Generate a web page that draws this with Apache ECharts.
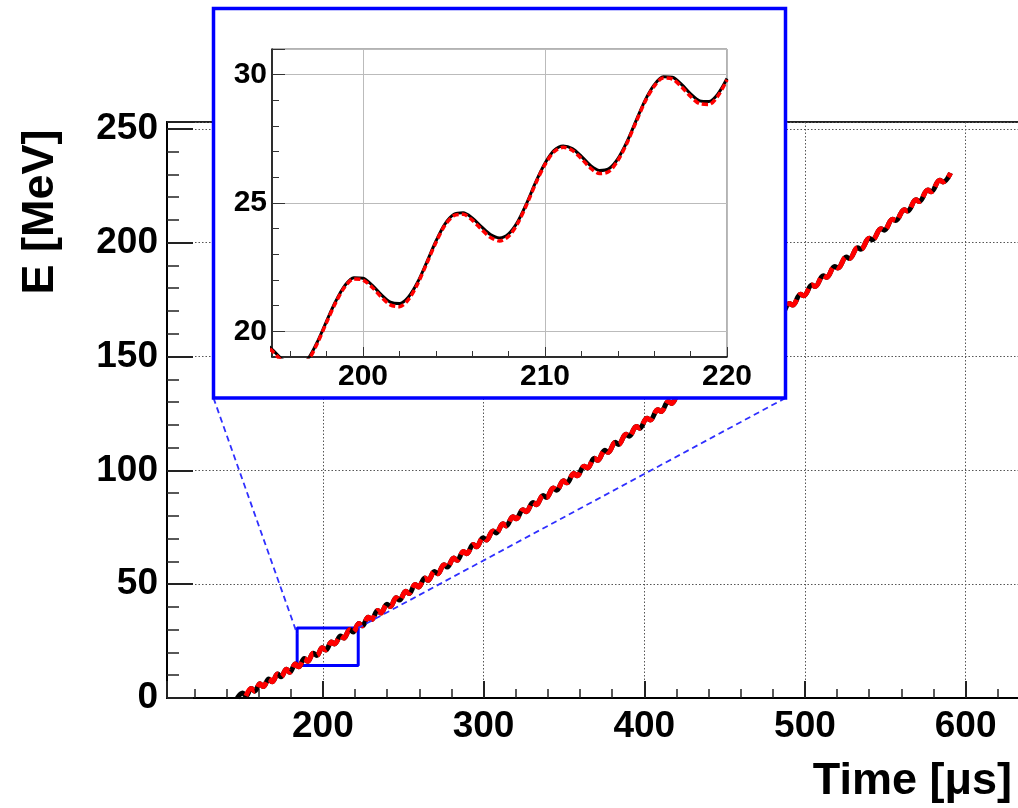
<!DOCTYPE html>
<html>
<head>
<meta charset="utf-8">
<script src="https://cdn.jsdelivr.net/npm/echarts@6.0.0/dist/echarts.min.js"></script>
<style>
  html, body { margin: 0; padding: 0; background: #fff; }
  #chart { width: 1018px; height: 808px; }
</style>
</head>
<body>
<div id="chart"></div>
<script>
// energy ramp, main plot: start, then peak / trough of every small oscillation
var mainTime = [
  146.7, 150.1, 152.1, 155.5, 157.5, 160.9, 162.9, 166.4, 168.4, 171.9, 173.9,
  177.4, 179.4, 182.9, 184.9, 188.5, 190.5, 194.1, 196.2, 199.7, 201.8,
  205.4, 207.2, 211.1, 212.9, 216.8, 218.8, 222.5, 224.5, 228.3, 230.3,
  234.1, 236.1, 239.9, 241.9, 245.7, 247.7, 251.6, 253.6, 257.5, 259.5,
  263.5, 265.5, 269.4, 271.4, 275.4, 277.4, 281.5, 283.5, 287.5, 289.5,
  293.6, 295.6, 299.7, 301.7, 305.9, 307.9, 312.1, 314.1, 318.3, 320.3,
  324.5, 326.5, 330.8, 332.8, 337.1, 339.1, 343.4, 345.4, 349.8, 351.8,
  356.2, 358.2, 362.6, 364.6, 369.0, 371.0, 375.5, 377.5, 382.0, 384.0,
  388.6, 390.6, 395.1, 397.1, 401.7, 403.7, 408.4, 410.4, 415.0, 417.0,
  421.7, 423.7, 428.4, 430.4, 435.2, 437.2, 442.0, 444.0, 448.8, 450.8,
  455.6, 457.6, 462.5, 464.5, 469.4, 471.4, 476.3, 478.3, 483.3, 485.3,
  490.3, 492.3, 497.3, 499.3, 504.3, 506.3, 511.4, 513.4, 518.5, 520.5,
  525.7, 527.7, 532.8, 534.8, 540.0, 542.0, 547.3, 549.3, 554.5, 556.5,
  561.8, 563.8, 569.1, 571.1, 576.5, 578.5, 583.9, 585.9, 590.6
];
var mainEnergy = [
  0.0, 2.2, 0.9, 4.2, 3.0, 6.3, 5.0, 8.4, 7.1, 10.5, 9.3,
  12.6, 11.3, 14.9, 13.7, 17.3, 16.1, 19.7, 18.7, 22.1, 21.1,
  24.6, 23.7, 27.2, 26.3, 30.0, 29.0, 32.7, 31.7, 35.5, 34.5,
  38.4, 37.3, 41.2, 40.2, 44.0, 43.0, 46.9, 45.9, 49.8, 48.8,
  52.7, 51.7, 55.6, 54.6, 58.5, 57.5, 61.5, 60.5, 64.4, 63.4,
  67.4, 66.4, 70.4, 69.4, 73.4, 72.5, 76.5, 75.6, 79.6, 78.7,
  82.7, 81.8, 85.9, 84.9, 89.0, 88.1, 92.2, 91.3, 95.4, 94.5,
  98.6, 97.6, 101.8, 101.0, 105.3, 104.4, 108.8, 107.9, 112.3, 111.4,
  115.8, 115.0, 119.3, 118.5, 122.9, 122.1, 126.6, 125.8, 130.2, 129.4,
  133.9, 133.1, 137.7, 136.9, 141.6, 140.8, 145.4, 144.7, 149.3, 148.6,
  153.2, 152.5, 157.2, 156.5, 161.2, 160.5, 165.2, 164.5, 169.2, 168.6,
  173.3, 172.6, 177.3, 176.7, 181.4, 180.7, 185.5, 184.8, 189.5, 188.9,
  193.7, 193.0, 197.8, 197.1, 201.9, 201.3, 206.1, 205.5, 210.3, 209.7,
  214.5, 213.9, 218.8, 218.1, 223.1, 222.4, 227.4, 226.7, 230.6
];

// zoomed window, 0.5 us steps
var insetTime = [
  194.5, 195.0, 195.5, 196.0, 196.5, 197.0, 197.5, 198.0, 198.5, 199.0,
  199.5, 200.0, 200.5, 201.0, 201.5, 202.0, 202.5, 203.0, 203.5, 204.0,
  204.5, 205.0, 205.5, 206.0, 206.5, 207.0, 207.5, 208.0, 208.5, 209.0,
  209.5, 210.0, 210.5, 211.0, 211.5, 212.0, 212.5, 213.0, 213.5, 214.0,
  214.5, 215.0, 215.5, 216.0, 216.5, 217.0, 217.5, 218.0, 218.5, 219.0,
  219.5, 220.0
];
var insetBlack = [
  19.6, 19.3, 18.95, 18.7, 18.65, 18.95, 19.6, 20.4, 21.17, 21.78,
  22.09, 22.07, 21.8, 21.43, 21.14, 21.08, 21.34, 21.91, 22.69, 23.5,
  24.18, 24.56, 24.62, 24.42, 24.08, 23.77, 23.64, 23.8, 24.27, 25.0,
  25.83, 26.55, 27.05, 27.22, 27.12, 26.82, 26.46, 26.27, 26.33, 26.72,
  27.38, 28.2, 29.0, 29.6, 29.92, 29.9, 29.62, 29.25, 28.98, 28.95,
  29.25, 29.85
];
var insetRed = [
  19.54, 19.24, 18.88, 18.6, 18.55, 18.88, 19.55, 20.35, 21.12, 21.73,
  22.04, 22.0, 21.72, 21.34, 21.03, 20.96, 21.24, 21.85, 22.64, 23.45,
  24.13, 24.51, 24.56, 24.33, 23.98, 23.66, 23.52, 23.7, 24.21, 24.95,
  25.78, 26.5, 27.0, 27.17, 27.05, 26.73, 26.36, 26.15, 26.22, 26.65,
  27.33, 28.15, 28.95, 29.55, 29.87, 29.83, 29.53, 29.15, 28.87, 28.84,
  29.17, 29.8
];

// marker box on the main plot
var boxTime = [184, 222];
var boxEnergy = [14.3, 30.8];

var FONT = '"Liberation Sans", Arial, Helvetica, sans-serif';

function zip(xs, ys) {
  return xs.map(function (x, i) { return [x, ys[i]]; });
}

var mainData = zip(mainTime, mainEnergy);
var boxData = [
  [boxTime[0], boxEnergy[0]], [boxTime[1], boxEnergy[0]],
  [boxTime[1], boxEnergy[1]], [boxTime[0], boxEnergy[1]],
  [boxTime[0], boxEnergy[0]]
];

function labelEvery(step) {
  return function (v) {
    return Math.abs(v % step) < 1e-6 ? String(v) : '';
  };
}

var chart = echarts.init(document.getElementById('chart'), null, { renderer: 'canvas' });

var option = {
  animation: false,
  backgroundColor: '#fff',
  grid: [
    {
      left: 167, top: 122, right: -28, bottom: 110,
      show: true, borderColor: '#222', borderWidth: 2,
      containLabel: false, outerBoundsMode: 'none'
    },
    {
      left: 272, top: 49, right: 291, bottom: 451,
      show: true, borderColor: '#666', borderWidth: 1, backgroundColor: '#fff',
      z: 11, containLabel: false, outerBoundsMode: 'none'
    }
  ],
  xAxis: [
    {
      gridIndex: 0, type: 'value', min: 103, max: 650, splitNumber: 5,
      axisLine: { show: true, onZero: false, lineStyle: { color: '#000', width: 2 } },
      axisTick: { show: true, inside: true, length: 17, lineStyle: { color: '#222', width: 2 } },
      minorTick: { show: true, splitNumber: 5, length: 9, lineStyle: { color: '#222', width: 1.5 } },
      axisLabel: {
        margin: 10, color: '#000', fontSize: 37, fontWeight: 'bold', fontFamily: FONT,
        formatter: labelEvery(100)
      },
      splitLine: { show: true, lineStyle: { color: '#555', width: 1, type: [1.5, 2] } }
    },
    {
      gridIndex: 1, type: 'value', min: 195, max: 220, splitNumber: 2, z: 12,
      axisLine: { show: true, onZero: false, lineStyle: { color: '#000', width: 1.5 } },
      axisTick: { show: true, inside: true, length: 10, lineStyle: { color: '#333', width: 1 } },
      minorTick: { show: true, splitNumber: 5, length: 6, lineStyle: { color: '#333', width: 1 } },
      axisLabel: {
        margin: 5, color: '#000', fontSize: 30, fontWeight: 'bold', fontFamily: FONT,
        formatter: labelEvery(10)
      },
      splitLine: { show: true, lineStyle: { color: '#bbb', width: 1 } }
    }
  ],
  yAxis: [
    {
      gridIndex: 0, type: 'value', min: 0, max: 253, interval: 50,
      axisLine: { show: true, onZero: false, lineStyle: { color: '#000', width: 2 } },
      axisTick: { show: true, inside: true, length: 26, lineStyle: { color: '#222', width: 2 } },
      minorTick: { show: true, splitNumber: 5, length: 12, lineStyle: { color: '#222', width: 1.5 } },
      axisLabel: {
        margin: 9, color: '#000', fontSize: 37, fontWeight: 'bold', fontFamily: FONT,
        formatter: labelEvery(50)
      },
      splitLine: { show: true, lineStyle: { color: '#555', width: 1, type: [1.5, 2] } }
    },
    {
      gridIndex: 1, type: 'value', min: 19, max: 31, splitNumber: 2, z: 12,
      axisLine: { show: true, onZero: false, lineStyle: { color: '#000', width: 1.5 } },
      axisTick: { show: true, inside: true, length: 13, lineStyle: { color: '#333', width: 1 } },
      minorTick: { show: true, splitNumber: 5, length: 7, lineStyle: { color: '#333', width: 1 } },
      axisLabel: {
        margin: 5, color: '#000', fontSize: 30, fontWeight: 'bold', fontFamily: FONT,
        formatter: labelEvery(5)
      },
      splitLine: { show: true, lineStyle: { color: '#bbb', width: 1 } }
    }
  ],
  series: [
    {
      name: 'box', type: 'line', xAxisIndex: 0, yAxisIndex: 0, z: 1,
      data: boxData, showSymbol: false, silent: true,
      lineStyle: { color: '#0000ff', width: 3 }
    },
    {
      name: 'main black', type: 'line', xAxisIndex: 0, yAxisIndex: 0, z: 2,
      data: mainData, showSymbol: false, smooth: 0.4, silent: true,
      lineStyle: { color: '#000', width: 5 }
    },
    {
      name: 'main red', type: 'line', xAxisIndex: 0, yAxisIndex: 0, z: 3,
      data: mainData.slice(2), showSymbol: false, smooth: 0.4, silent: true,
      lineStyle: { color: '#ff0000', width: 5, type: [14, 5] }
    },
    {
      name: 'inset black', type: 'line', xAxisIndex: 1, yAxisIndex: 1, z: 13,
      data: zip(insetTime, insetBlack), showSymbol: false, smooth: 0.3, clip: true, silent: true,
      lineStyle: { color: '#000', width: 3 }
    },
    {
      name: 'inset red', type: 'line', xAxisIndex: 1, yAxisIndex: 1, z: 14,
      data: zip(insetTime, insetRed), showSymbol: false, smooth: 0.3, clip: true, silent: true,
      lineStyle: { color: '#ff0000', width: 3.5, type: [6, 3] }
    }
  ]
};

chart.setOption(option);

// inset frame and connectors to the marker box
var insetBox = { x: 213.5, y: 8.5, width: 572, height: 389.5 };
var boxLeftTop = chart.convertToPixel({ gridIndex: 0 }, [boxTime[0], boxEnergy[1]]);
var boxRightTop = chart.convertToPixel({ gridIndex: 0 }, [boxTime[1], boxEnergy[1]]);
var insetBottom = insetBox.y + insetBox.height;

chart.setOption({
  graphic: [
    {
      type: 'rect', z: 10, silent: true, shape: insetBox,
      style: { fill: '#fff', stroke: '#0000ff', lineWidth: 3.5 }
    },
    {
      type: 'line', z: 5, silent: true,
      shape: { x1: insetBox.x, y1: insetBottom, x2: boxLeftTop[0], y2: boxLeftTop[1] + 6 },
      style: { stroke: '#2f2fff', lineWidth: 1.8, lineDash: [6, 4] }
    },
    {
      type: 'line', z: 5, silent: true,
      shape: { x1: insetBox.x + insetBox.width, y1: insetBottom, x2: boxRightTop[0], y2: boxRightTop[1] },
      style: { stroke: '#2f2fff', lineWidth: 1.8, lineDash: [6, 4] }
    },
    {
      type: 'text', x: 41, y: 212, rotation: Math.PI / 2, silent: true,
      style: {
        text: 'E [MeV]', fill: '#000', fontSize: 45, fontWeight: 'bold', fontFamily: FONT,
        align: 'center', verticalAlign: 'middle'
      }
    },
    {
      type: 'text', x: 1012, y: 782, silent: true,
      style: {
        text: 'Time [\u03bcs]', fill: '#000', fontSize: 45, fontWeight: 'bold', fontFamily: FONT,
        align: 'right', verticalAlign: 'middle'
      }
    }
  ]
});
</script>
</body>
</html>
